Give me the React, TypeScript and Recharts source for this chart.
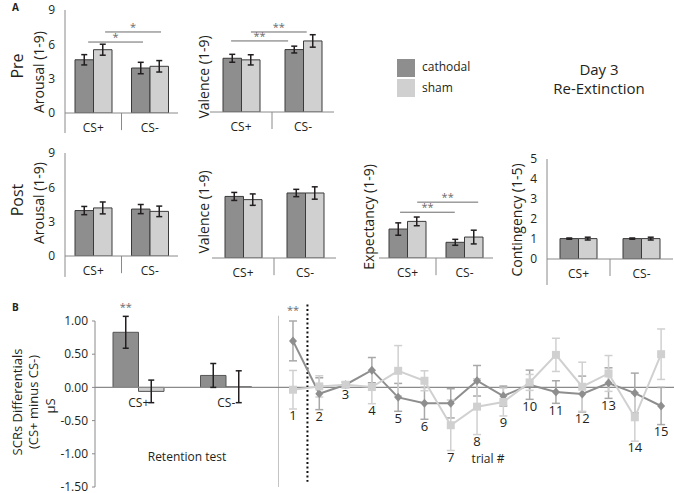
import React from 'react';
import { BarChart, Bar, LineChart, Line, XAxis, YAxis, ErrorBar, ReferenceLine, ReferenceDot, LabelList } from 'recharts';

const FONT = '"Open Sans", "Noto Sans", sans-serif';
const DARK = '#8e8e8e';
const LIGHT = '#d0d0d0';
const EDGE = '#3a3a3a';
const AXIS = '#8a8a8a';
const INK = '#231f20';
const SIG = '#6a6a6a';

const categories = ['CS+', 'CS-'];
const groupPos = [0.5, 1.5];

// Panel A, pre ratings
const preArousalCath = [4.65, 3.93];
const preArousalSham = [5.53, 4.08];
const preArousalCathErr = [0.45, 0.5];
const preArousalShamErr = [0.48, 0.5];

const preValenceCath = [4.74, 5.51];
const preValenceSham = [4.6, 6.27];
const preValenceCathErr = [0.35, 0.3];
const preValenceShamErr = [0.45, 0.55];

// Panel A, post ratings
const postArousalCath = [3.97, 4.1];
const postArousalSham = [4.2, 3.9];
const postArousalCathErr = [0.36, 0.4];
const postArousalShamErr = [0.52, 0.46];

const postValenceCath = [5.38, 5.68];
const postValenceSham = [5.1, 5.68];
const postValenceCathErr = [0.35, 0.32];
const postValenceShamErr = [0.5, 0.54];

const expectancyCath = [2.53, 1.37];
const expectancySham = [3.2, 1.83];
const expectancyCathErr = [0.54, 0.26];
const expectancyShamErr = [0.38, 0.6];

const contingencyCath = [1.02, 1.02];
const contingencySham = [1.02, 1.02];
const contingencyCathErr = [0.03, 0.03];
const contingencyShamErr = [0.07, 0.07];

const ratingTicks = [0, 3, 6, 9];
const contingencyTicks = [0, 1, 2, 3, 4, 5];

// significance brackets (x in group units 0..2, y in rating units)
const preArousalSig = [
  { from: 0.41, to: 1.38, y: 6.2, mark: '*' },
  { from: 0.71, to: 1.7, y: 7.08, mark: '*' },
];
const preValenceSig = [
  { from: 0.34, to: 1.26, y: 6.27, mark: '**' },
  { from: 0.66, to: 1.56, y: 7.06, mark: '**' },
];
const expectancySig = [
  { from: 0.37, to: 1.33, y: 4.0, mark: '**' },
  { from: 0.67, to: 1.74, y: 4.88, mark: '**' },
];

// Panel B, retention test
const retentionCath = [0.83, 0.18];
const retentionSham = [-0.06, 0.01];
const retentionCathErr = [0.24, 0.18];
const retentionShamErr = [0.17, 0.24];
const retentionSig = ['**', ''];
const scrTicks = [-1.5, -1, -0.5, 0, 0.5, 1];

// Panel B, re-extinction trials
const trials = [1, 2, 3, 4, 5, 6, 7, 8, 9, 10, 11, 12, 13, 14, 15];
const trialCath = [0.7, -0.095, 0.04, 0.26, -0.15, -0.24, -0.24, 0.1, -0.13, 0.04, -0.07, -0.1, 0.065, -0.085, -0.28];
const trialCathErr = [0.3, 0.24, 0.04, 0.19, 0.21, 0.24, 0.22, 0.23, 0.15, 0.22, 0.17, 0.27, 0.23, 0.3, 0.28];
const trialSham = [-0.035, 0.015, 0.04, 0.005, 0.25, 0.1, -0.57, -0.29, -0.22, 0.075, 0.49, 0.01, 0.21, -0.45, 0.5];
const trialShamErr = [0.29, 0.16, 0.04, 0.25, 0.38, 0.15, 0.38, 0.42, 0.21, 0.12, 0.25, 0.37, 0.27, 0.36, 0.38];
const trialSig = ['**', '', '', '', '', '', '', '', '', '', '', '', '', '', ''];

type Sig = { from: number; to: number; y: number; mark: string };

type PanelProps = {
  x: number; y: number; w: number; h: number; max: number;
  ticks?: number[];
  cath: number[]; sham: number[]; cathErr: number[]; shamErr: number[];
  sig?: Sig[]; ext?: number; div: number;
};

const RatingPanel: React.FC<PanelProps> = ({ x, y, w, h, max, ticks, cath, sham, cathErr, shamErr, sig = [], ext = 0, div }) => {
  const showAxis = !!ticks;
  const data = categories.map((cat, i) => ({
    pos: groupPos[i], cath: cath[i], sham: sham[i], cathErr: cathErr[i], shamErr: shamErr[i],
  }));
  const padL = 40, padT = 16, padR = 4, padB = 40;
  return (
    <div style={{ position: 'absolute', left: x - padL, top: y - padT }}>
      <BarChart
        width={w + padL + padR}
        height={h + padT + padB}
        data={data}
        barGap={0}
        margin={{ top: padT, right: padR, bottom: 0, left: showAxis ? padL - 30 : padL }}
      >
        <XAxis dataKey="pos" type="number" domain={[0, 2]} ticks={groupPos} allowDataOverflow
          tickFormatter={(v: number) => categories[groupPos.indexOf(v)]}
          height={padB} tickLine={false} tickSize={0} tickMargin={10}
          stroke={AXIS} tick={{ fill: INK, fontSize: 12 }} interval={0} />
        <YAxis width={30} hide={!showAxis} domain={[0, max]} ticks={ticks} interval={0} allowDataOverflow
          tickLine={false} tickSize={0} tickMargin={10} stroke={AXIS} tick={{ fill: INK, fontSize: 12 }} />
        <Bar dataKey="cath" barSize={18.5} fill={DARK} stroke={EDGE} isAnimationActive={false}>
          <ErrorBar dataKey="cathErr" width={3} stroke={INK} />
        </Bar>
        <Bar dataKey="sham" barSize={18.5} fill={LIGHT} stroke={EDGE} isAnimationActive={false}>
          <ErrorBar dataKey="shamErr" width={3} stroke={INK} />
        </Bar>
        {ext > 0 && (
          <ReferenceLine segment={[{ x: 0, y: 0 }, { x: 0, y: -ext }]} stroke={AXIS} ifOverflow="visible" />
        )}
        <ReferenceLine segment={[{ x: 1, y: 0 }, { x: 1, y: -div }]} stroke={AXIS} ifOverflow="visible" />
        {sig.map((s, i) => (
          <ReferenceLine key={i} segment={[{ x: s.from, y: s.y }, { x: s.to, y: s.y }]}
            stroke={SIG} ifOverflow="visible"
            label={{ value: s.mark, position: 'top', fill: SIG, fontSize: 11, offset: 1 }} />
        ))}
      </BarChart>
    </div>
  );
};

const Diamond = (p: any) => (
  <path key={p.key} d={`M${p.cx},${p.cy - 4.5}L${p.cx + 4},${p.cy}L${p.cx},${p.cy + 4.5}L${p.cx - 4},${p.cy}Z`} fill={DARK} />
);
const Square = (p: any) => <rect key={p.key} x={p.cx - 4} y={p.cy - 4} width={8} height={8} fill={LIGHT} />;

const VText: React.FC<{ x: number; y: number; size: number; children: React.ReactNode }> = ({ x, y, size, children }) => (
  <text transform={`translate(${x},${y}) rotate(-90)`} textAnchor="middle" dominantBaseline="central" fontSize={size} fill={INK}>
    {children}
  </text>
);

export default function App() {
  const retentionData = categories.map((cat, i) => ({
    cat, cath: retentionCath[i], sham: retentionSham[i],
    cathErr: retentionCathErr[i], shamErr: retentionShamErr[i], sig: retentionSig[i],
  }));
  const trialData = trials.map((trial, i) => ({
    trial,
    cath: trialCath[i], sham: trialSham[i],
    cathErr: trialCathErr[i], shamErr: trialShamErr[i], sig: trialSig[i],
    labelAt: Math.min(trialCath[i] - trialCathErr[i], trialSham[i] - trialShamErr[i]),
  }));
  const xMin = 0.43;

  return (
    <div style={{ position: 'absolute', left: 0, top: 0, width: 674, height: 493, overflow: 'hidden', background: '#fff', fontFamily: FONT }}>
      <RatingPanel x={65} y={10} w={113} h={103} max={9} ticks={ratingTicks} ext={1.75} div={1.5}
        cath={preArousalCath} sham={preArousalSham} cathErr={preArousalCathErr} shamErr={preArousalShamErr} sig={preArousalSig} />
      <RatingPanel x={210} y={10} w={124} h={102} max={9} div={1.5}
        cath={preValenceCath} sham={preValenceSham} cathErr={preValenceCathErr} shamErr={preValenceShamErr} sig={preValenceSig} />
      <RatingPanel x={65} y={153} w={113} h={103} max={9} ticks={ratingTicks} ext={1.83} div={1.5}
        cath={postArousalCath} sham={postArousalSham} cathErr={postArousalCathErr} shamErr={postArousalShamErr} />
      <RatingPanel x={212} y={155} w={124} h={103} max={9} div={1.5}
        cath={postValenceCath} sham={postValenceSham} cathErr={postValenceCathErr} shamErr={postValenceShamErr} />
      <RatingPanel x={379} y={155} w={114} h={103} max={9} div={1.5}
        cath={expectancyCath} sham={expectancySham} cathErr={expectancyCathErr} shamErr={expectancyShamErr} sig={expectancySig} />
      <RatingPanel x={547} y={159} w={126} h={100} max={5} ticks={contingencyTicks} ext={1.3} div={0.85}
        cath={contingencyCath} sham={contingencySham} cathErr={contingencyCathErr} shamErr={contingencyShamErr} />

      {/* B: retention test bars */}
      <div style={{ position: 'absolute', left: 0, top: 300 }}>
        <BarChart width={278} height={193} data={retentionData} barGap={0} margin={{ top: 21, right: 0, bottom: 6, left: 0 }}>
          <XAxis dataKey="cat" hide padding={{ left: 0, right: 8 }} />
          <YAxis width={95} domain={[-1.5, 1]} ticks={scrTicks} interval={0} allowDataOverflow
            tickFormatter={(v: number) => v.toFixed(2)} stroke={AXIS} tickSize={3} tickMargin={4}
            tick={{ fill: INK, fontSize: 12 }} />
          <ReferenceLine y={0} stroke={AXIS} strokeWidth={1.3} />
          <Bar dataKey="cath" barSize={25.5} fill={DARK} stroke="#555" isAnimationActive={false}>
            <ErrorBar dataKey="cathErr" width={3} stroke={INK} />
            <LabelList dataKey="sig" position="top" offset={21} fill={SIG} fontSize={11} />
          </Bar>
          <Bar dataKey="sham" barSize={25.5} fill={LIGHT} stroke="#555" isAnimationActive={false}>
            <ErrorBar dataKey="shamErr" width={3} stroke={INK} />
          </Bar>
          {categories.map((c) => (
            <ReferenceDot key={c} x={c} y={0} r={0} fill="none" stroke="none"
              label={{ value: c, position: 'bottom', offset: 11, fill: INK, fontSize: 12 }} />
          ))}
        </BarChart>
      </div>

      {/* B: re-extinction trials */}
      <div style={{ position: 'absolute', left: 278, top: 300 }}>
        <LineChart width={396} height={193} data={trialData} margin={{ top: 21, right: 0, bottom: 6, left: 0 }}>
          <XAxis dataKey="trial" type="number" domain={[xMin, 15.49]} hide allowDataOverflow />
          <YAxis domain={[-1.5, 1]} hide allowDataOverflow />
          <ReferenceLine y={0} stroke={AXIS} strokeWidth={1.3} />
          <ReferenceLine segment={[{ x: xMin, y: 1.08 }, { x: xMin, y: -1.5 }]} stroke={AXIS} ifOverflow="visible" />
          <ReferenceLine segment={[{ x: 1.55, y: 1.25 }, { x: 1.55, y: -1.42 }]} stroke="#111" strokeWidth={2}
            strokeDasharray="2 2.5" ifOverflow="visible" />
          <Line dataKey="labelAt" stroke="none" dot={false} activeDot={false} isAnimationActive={false}>
            <LabelList dataKey="trial" position="bottom" offset={2} fill={INK} fontSize={13} />
          </Line>
          <Line dataKey="cath" stroke={DARK} strokeWidth={2} dot={Diamond} activeDot={false} isAnimationActive={false}>
            <ErrorBar dataKey="cathErr" direction="y" width={4} stroke="#a8a8a8" />
            <LabelList dataKey="sig" position="top" offset={27} fill={SIG} fontSize={11} />
          </Line>
          <Line dataKey="sham" stroke={LIGHT} strokeWidth={2} dot={Square} activeDot={false} isAnimationActive={false}>
            <ErrorBar dataKey="shamErr" direction="y" width={4} stroke={LIGHT} />
          </Line>
        </LineChart>
      </div>

      {/* titles, legend and axis labels */}
      <svg width={674} height={493} style={{ position: 'absolute', left: 0, top: 0, pointerEvents: 'none' }}>
        <text x={12} y={11} fontSize={10} fontWeight="bold" fill={INK}>A</text>
        <text x={12} y={311} fontSize={10} fontWeight="bold" fill={INK}>B</text>

        <VText x={17} y={66} size={16}>Pre</VText>
        <VText x={38} y={72} size={14}>Arousal (1-9)</VText>
        <VText x={203} y={77} size={14}>Valence (1-9)</VText>

        <VText x={17} y={200} size={16}>Post</VText>
        <VText x={38} y={203} size={14}>Arousal (1-9)</VText>
        <VText x={203} y={212} size={14}>Valence (1-9)</VText>
        <VText x={368} y={217} size={14}>Expectancy (1-9)</VText>
        <VText x={516} y={220} size={14}>Contingency (1-5)</VText>

        <VText x={17} y={402} size={13}>SCRs Differentials</VText>
        <VText x={33} y={402} size={13}>(CS+ minus CS-)</VText>
        <VText x={50} y={406} size={13}>µS</VText>

        <rect x={397} y={59} width={18} height={18} fill={DARK} />
        <rect x={397} y={79} width={18} height={18} fill={LIGHT} />
        <text x={422} y={71} fontSize={12} fill={INK}>cathodal</text>
        <text x={422} y={92} fontSize={12} fill={INK}>sham</text>
        <text x={599} y={75} fontSize={15} fill={INK} textAnchor="middle">Day 3</text>
        <text x={599} y={94} fontSize={15} fill={INK} textAnchor="middle">Re-Extinction</text>

        <text x={187} y={461} fontSize={12} fill={INK} textAnchor="middle">Retention test</text>
        <text x={488} y={463} fontSize={12} fill={INK} textAnchor="middle">trial #</text>
      </svg>
    </div>
  );
}
